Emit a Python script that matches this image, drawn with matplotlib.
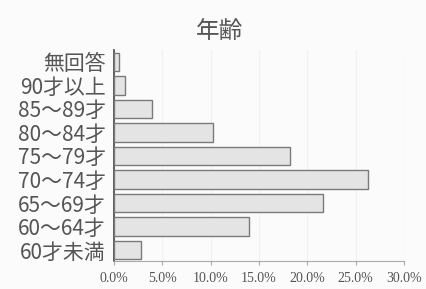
import matplotlib.pyplot as plt
from matplotlib.ticker import FuncFormatter

# 年齢分布 (%)
labels = ["60才未満", "60～64才", "65～69才", "70～74才", "75～79才",
          "80～84才", "85～89才", "90才以上", "無回答"]
values = [2.8, 14.0, 21.6, 26.3, 18.2, 10.2, 3.9, 1.1, 0.5]
ticks = [0, 5, 10, 15, 20, 25, 30]

txt = "#555555"
fig = plt.figure(figsize=(4.27, 2.89), dpi=100, facecolor="#fbfbfb")
ax = fig.add_axes([114 / 427, 28 / 289, 290 / 427, 211 / 289])
ax.set_facecolor("#fbfbfb")

ax.barh(range(len(labels)), values, height=0.78, color="#e4e4e4",
        edgecolor="#7a7a7a", linewidth=1.0, zorder=3)

ax.set_xlim(0, 30)
ax.set_ylim(-0.46, len(labels) - 0.5)
ax.set_xticks(ticks)
ax.xaxis.set_major_formatter(FuncFormatter(lambda v, p: f"{v:.1f}%"))
ax.set_yticks(range(len(labels)))
ax.set_yticklabels(labels, family=["Noto Sans CJK JP", "DejaVu Sans"],
                   fontsize=15, color=txt)
for t in ax.get_xticklabels():
    t.set_family("Liberation Serif")
    t.set_fontsize(10)
    t.set_color(txt)

ax.grid(axis="x", color="#f1f1f1", linewidth=1.0, zorder=0)
ax.tick_params(axis="y", length=0, pad=6)
ax.tick_params(axis="x", length=3, color="#aaaaaa", pad=5)
for s in ["top", "right"]:
    ax.spines[s].set_visible(False)
ax.spines["left"].set_color("#444444")
ax.spines["left"].set_linewidth(1.2)
ax.spines["bottom"].set_color("#aaaaaa")

fig.text(220 / 427, 1 - 31 / 289, "年齢", ha="center", va="center",
         family=["Noto Sans CJK JP", "DejaVu Sans"], fontsize=17, color=txt)

fig.savefig("out.png", dpi=100, facecolor=fig.get_facecolor())
